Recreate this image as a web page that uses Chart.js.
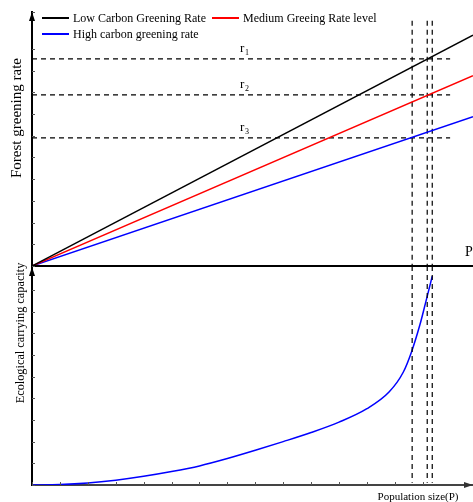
<!DOCTYPE html>
<html>
<head>
<meta charset="utf-8">
<script src="https://cdn.jsdelivr.net/npm/chart.js@4.4.1/dist/chart.umd.min.js"></script>
<style>
  html, body { margin: 0; padding: 0; background: #fff; }
  #wrap { position: relative; width: 473px; height: 502px; }
  #legend {
    position: absolute; left: 42px; top: 10px; width: 345px;
    display: flex; flex-wrap: wrap; column-gap: 6px;
    font-family: "Liberation Serif", serif; font-size: 12px; line-height: 16px; color: #000;
  }
  #legend .item { display: flex; align-items: center; white-space: nowrap; }
  #legend .swatch { display: inline-block; width: 27px; height: 0; border-top: 2px solid; margin-right: 4px; }
</style>
</head>
<body>
<div id="wrap">
  <canvas id="chart" width="473" height="502"></canvas>
  <div id="legend"></div>
</div>
<script>
// series shown in the legend
const seriesNames = ["Low Carbon Greening Rate", "Medium Greeing Rate level", "High carbon greening rate"];
const seriesColors = ["#000000", "#ff0000", "#0000ff"];

// greening-rate lines (upper panel), from origin to right edge
const rateX = [0, 15.8];
const lowCarbon = [0, 10.63];
const mediumRate = [0, 8.77];
const highCarbon = [0, 6.88];

// reference levels r1..r3 and the population values where they are reached
const rLevels = [9.54, 7.88, 5.9];
const rNames = ["1", "2", "3"];
const rEndX = 14.98;
const criticalP = [13.62, 14.16, 14.34];

// ecological carrying capacity curve (lower panel)
const popX = [0, 1, 2, 3, 4, 5, 6, 7, 8, 9, 10, 11, 12, 12.8, 13.3, 13.6, 13.9, 14.1, 14.34];
const capacity = [0, 0.02, 0.09, 0.22, 0.4, 0.62, 0.88, 1.22, 1.6, 2.0, 2.42, 2.9, 3.52, 4.3, 5.2, 6.15, 7.4, 8.4, 9.63];

const xMax = 15.8;
const topMax = 11.7;
const bottomMax = 10.1;

const pts = (xs, ys) => xs.map((v, i) => ({ x: v, y: ys[i] }));
const serif = "Liberation Serif";

let datasets = [lowCarbon, mediumRate, highCarbon].map((vals, i) => ({
  label: seriesNames[i],
  data: pts(rateX, vals),
  borderColor: seriesColors[i],
  borderWidth: 1.5,
  yAxisID: "y",
}));

rLevels.forEach((lvl, i) => {
  datasets.push({
    label: "r" + rNames[i],
    data: [{ x: 0, y: lvl }, { x: rEndX, y: lvl }],
    borderColor: "#000",
    borderWidth: 1.2,
    borderDash: [5, 4],
    yAxisID: "y",
  });
});

criticalP.forEach((p) => {
  datasets.push({
    data: [{ x: p, y: 11.3 }, { x: p, y: 0 }],
    borderColor: "#000",
    borderWidth: 1.2,
    borderDash: [5, 4],
    yAxisID: "y",
  });
  datasets.push({
    data: [{ x: p, y: bottomMax }, { x: p, y: 0.1 }],
    borderColor: "#000",
    borderWidth: 1.2,
    borderDash: [5, 4],
    yAxisID: "y2",
  });
});

datasets.push({
  label: "capacity",
  data: pts(popX, capacity),
  borderColor: "#0000ff",
  borderWidth: 1.5,
  cubicInterpolationMode: "monotone",
  yAxisID: "y2",
});

function arrow(ctx, x, y, dir) {
  ctx.beginPath();
  if (dir === "up") {
    ctx.moveTo(x, y);
    ctx.lineTo(x - 3, y + 9);
    ctx.lineTo(x + 3, y + 9);
  } else {
    ctx.moveTo(x, y);
    ctx.lineTo(x - 9, y - 3);
    ctx.lineTo(x - 9, y + 3);
  }
  ctx.closePath();
  ctx.fill();
}

const decor = {
  id: "decor",
  afterDraw(chart) {
    const { ctx } = chart;
    const { x, y, y2 } = chart.scales;
    const zeroY = y.getPixelForValue(0);
    ctx.save();

    // middle horizontal axis
    ctx.strokeStyle = "#000";
    ctx.lineWidth = 2;
    ctx.beginPath();
    ctx.moveTo(x.left, zeroY);
    ctx.lineTo(x.right, zeroY);
    ctx.stroke();

    // small inward ticks
    ctx.lineWidth = 1;
    ctx.strokeStyle = "#555";
    [y, y2].forEach((s) => {
      s.ticks.forEach((t) => {
        const py = Math.round(s.getPixelForValue(t.value)) + 0.5;
        ctx.beginPath();
        ctx.moveTo(x.left, py);
        ctx.lineTo(x.left + 3, py);
        ctx.stroke();
      });
    });
    x.ticks.forEach((t) => {
      const px = Math.round(x.getPixelForValue(t.value)) + 0.5;
      ctx.beginPath();
      ctx.moveTo(px, x.top);
      ctx.lineTo(px, x.top - 3);
      ctx.stroke();
    });

    // arrow heads
    ctx.fillStyle = "#000";
    arrow(ctx, x.left, y.top, "up");
    arrow(ctx, x.left, zeroY + 1, "up");
    ctx.fillStyle = "#333";
    arrow(ctx, x.right, x.top, "right");

    // r labels
    ctx.fillStyle = "#000";
    ctx.textBaseline = "alphabetic";
    rLevels.forEach((lvl, i) => {
      const px = x.getPixelForValue(7.45);
      const py = y.getPixelForValue(lvl) - 7;
      ctx.font = "13px " + serif;
      ctx.textAlign = "left";
      ctx.fillText("r", px, py);
      ctx.font = "8px " + serif;
      ctx.fillText(rNames[i], px + 5, py + 3);
    });

    // P label on middle axis
    ctx.font = "14px " + serif;
    ctx.textAlign = "left";
    ctx.fillText("P", 465, zeroY - 10);

    // axis titles
    ctx.font = "11px " + serif;
    ctx.textAlign = "center";
    ctx.fillText("Population size(P)", 418, 500);

    ctx.save();
    ctx.translate(21, 118);
    ctx.rotate(-Math.PI / 2);
    ctx.font = "15px " + serif;
    ctx.fillText("Forest greening rate", 0, 0);
    ctx.restore();

    ctx.save();
    ctx.translate(24, 333);
    ctx.rotate(-Math.PI / 2);
    ctx.font = "12.3px " + serif;
    ctx.fillText("Ecological carrying capacity", 0, 0);
    ctx.restore();

    ctx.restore();
  },
};

const chart = new Chart(document.getElementById("chart"), {
  type: "line",
  data: { datasets },
  options: {
    responsive: false,
    animation: false,
    layout: { padding: { left: 32, top: 12, right: 0, bottom: 17 } },
    elements: { point: { radius: 0 }, line: { tension: 0 } },
    plugins: { legend: { display: false }, tooltip: { enabled: false } },
    scales: {
      x: {
        type: "linear",
        min: 0,
        max: xMax,
        ticks: { display: false, stepSize: 1 },
        grid: { display: false, drawTicks: false },
        border: { color: "#444", width: 2 },
      },
      // lower panel (stacked scales are placed bottom-up in definition order)
      y2: {
        type: "linear",
        position: "left",
        stack: "panels",
        stackWeight: 219,
        min: 0,
        max: bottomMax,
        ticks: { display: false, stepSize: 1 },
        grid: { display: false, drawTicks: false },
        border: { color: "#000", width: 2 },
      },
      y: {
        type: "linear",
        position: "left",
        stack: "panels",
        stackWeight: 254,
        min: 0,
        max: topMax,
        ticks: { display: false, stepSize: 1 },
        grid: { display: false, drawTicks: false },
        border: { color: "#000", width: 2 },
      },
    },
  },
  plugins: [decor],
});

// html legend built from the first three datasets
const legend = document.getElementById("legend");
chart.data.datasets.slice(0, 3).forEach((ds) => {
  const item = document.createElement("span");
  item.className = "item";
  const sw = document.createElement("span");
  sw.className = "swatch";
  sw.style.borderColor = ds.borderColor;
  item.appendChild(sw);
  item.appendChild(document.createTextNode(ds.label));
  legend.appendChild(item);
});
</script>
</body>
</html>
